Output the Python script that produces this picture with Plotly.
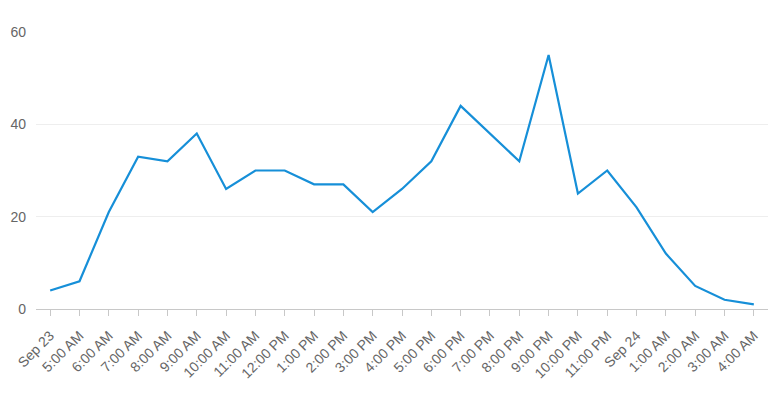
import plotly.graph_objects as go
import pandas as pd

times = pd.date_range("2023-09-23 04:00", "2023-09-24 04:00", freq="h")
values = [4, 6, 21, 33, 32, 38, 26, 30, 30, 27, 27, 21, 26, 32, 44, 38, 32, 55, 25, 30, 22, 12, 5, 2, 1]
tick_labels = ["Sep 23", "5:00 AM", "6:00 AM", "7:00 AM", "8:00 AM", "9:00 AM", "10:00 AM",
               "11:00 AM", "12:00 PM", "1:00 PM", "2:00 PM", "3:00 PM", "4:00 PM", "5:00 PM",
               "6:00 PM", "7:00 PM", "8:00 PM", "9:00 PM", "10:00 PM", "11:00 PM", "Sep 24",
               "1:00 AM", "2:00 AM", "3:00 AM", "4:00 AM"]
y_ticks = [0, 20, 40, 60]

fig = go.Figure()
fig.add_trace(go.Scatter(x=times, y=values, mode="lines",
                         line=dict(color="#168fd8", width=2.2)))

pad = pd.Timedelta(minutes=29)
fig.update_layout(
    width=774, height=396,
    margin=dict(l=36, r=6, t=32, b=87),
    paper_bgcolor="white", plot_bgcolor="white",
    showlegend=False,
    font=dict(family="Liberation Sans, Arial, sans-serif", size=14, color="#666666"),
    xaxis=dict(
        range=[times[0] - pad, times[-1] + pad],
        tickvals=list(times), ticktext=tick_labels, tickangle=-45,
        showgrid=False, showline=True, linecolor="#c8c8c8", linewidth=1,
        ticks="outside", ticklen=6, tickcolor="#c8c8c8",
        zeroline=False, ticklabelstandoff=6,
    ),
    yaxis=dict(
        range=[0, 60], tickvals=y_ticks,
        showgrid=True, gridcolor="#eeeeee", gridwidth=1,
        zeroline=False, showline=False, ticks="", ticklabelstandoff=9,
    ),
)

fig.write_html("out.html")
